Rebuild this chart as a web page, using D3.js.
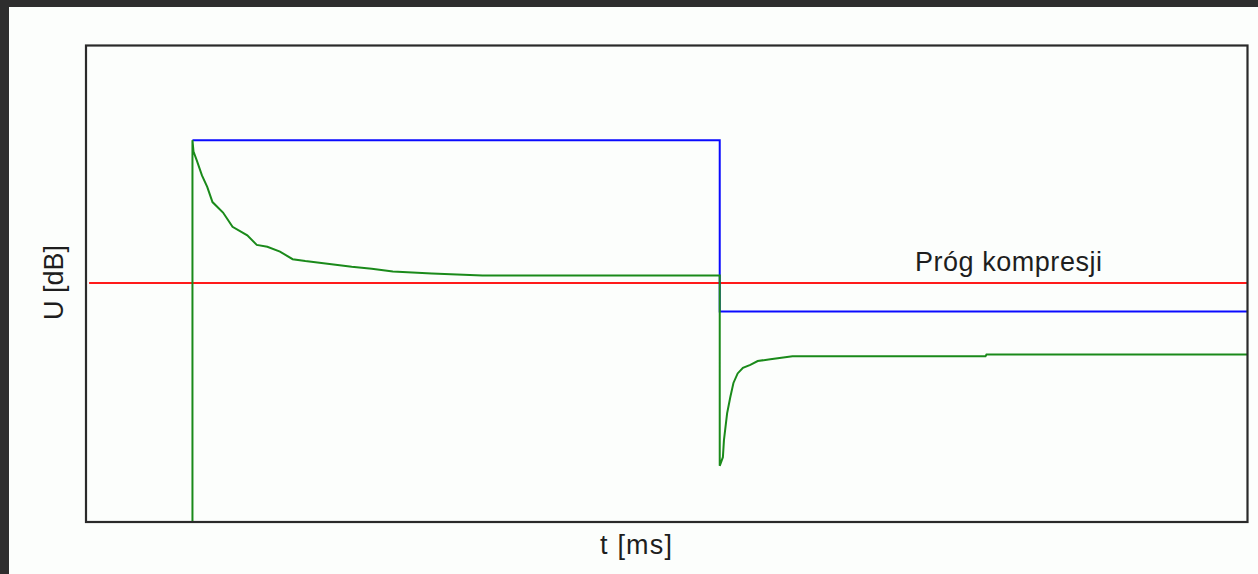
<!DOCTYPE html>
<html>
<head>
<meta charset="utf-8">
<script src="https://cdn.jsdelivr.net/npm/d3@7"></script>
<style>
  html, body { margin: 0; padding: 0; background: #2e2e2e; }
  svg { display: block; }
  text { font-family: "Liberation Sans", Arial, sans-serif; fill: #1e1e1e; }
</style>
</head>
<body>
<svg id="chart" width="1258" height="574"></svg>
<script>
// Time axis (ms) and level axis (dB)
const timeDomain = [0, 110];
const levelDomain = [0, 50];

// Compression threshold
const thresholdLevel = 25;
const thresholdLabel = "Próg kompresji";

// Input signal: a burst, then a quieter steady level
const inputTime  = [10, 60, 60, 110];
const inputLevel = [40, 40, 22, 22];

// Compressor output: attack overshoot decaying, then release undershoot recovering
const outputTime = [10, 10, 10.1, 10.4, 10.9, 11.4, 11.9, 12.9, 13.8, 15.2, 16.1, 17.1, 18.3, 19.5, 20.7, 23.0, 25.1, 27.0, 29.0, 32.7, 37.5, 60,
                    60, 60.3, 60.4, 60.7, 61.0, 61.3, 61.7, 62.2, 62.9, 63.6, 64.8, 66.9, 85.2, 85.3, 110];
const outputLevel = [0, 40, 38.8, 37.9, 36.3, 35.1, 33.5, 32.4, 30.9, 30.0, 29.0, 28.8, 28.3, 27.5, 27.3, 27.0, 26.7, 26.5, 26.2, 26.0, 25.8, 25.8,
                     5.8, 6.7, 8.5, 11.3, 13.0, 14.5, 15.5, 16.1, 16.4, 16.8, 17.0, 17.3, 17.3, 17.5, 17.5];

const xLabel = "t [ms]";
const yLabel = "U [dB]";

const svg = d3.select("#chart");
const W = 1258, H = 574;

// page background
svg.append("rect").attr("x", 9).attr("y", 7).attr("width", W - 9).attr("height", H - 7).attr("fill", "#fcfefc");

const plot = { left: 86, top: 45.5, right: 1247.5, bottom: 522 };

const x = d3.scaleLinear().domain(timeDomain).range([87, 1247]);
const y = d3.scaleLinear().domain(levelDomain).range([521, 45]);

const line = d3.line().x(d => x(d[0])).y(d => y(d[1]));

// threshold line
svg.append("path")
  .datum([[timeDomain[0] + 0.2, thresholdLevel], [timeDomain[1], thresholdLevel]])
  .attr("d", line)
  .attr("fill", "none").attr("stroke", "#ff1a1a").attr("stroke-width", 2);

// input
svg.append("path")
  .datum(inputTime.map((t, i) => [t, inputLevel[i]]))
  .attr("d", line)
  .attr("fill", "none").attr("stroke", "#0a0aff").attr("stroke-width", 2);

// output
svg.append("path")
  .datum(outputTime.map((t, i) => [t, outputLevel[i]]))
  .attr("d", line)
  .attr("fill", "none").attr("stroke", "#1a8a1a").attr("stroke-width", 2)
  .attr("stroke-linejoin", "miter");

// frame
svg.append("rect")
  .attr("x", plot.left).attr("y", plot.top)
  .attr("width", plot.right - plot.left).attr("height", plot.bottom - plot.top)
  .attr("fill", "none").attr("stroke", "#2a2a2a").attr("stroke-width", 2.2);

// threshold label
svg.append("text")
  .attr("x", 915).attr("y", y(thresholdLevel) - 12.5)
  .attr("font-size", 27)
  .attr("textLength", 187).attr("lengthAdjust", "spacing")
  .text(thresholdLabel);

// axis titles
svg.append("text")
  .attr("x", 600).attr("y", 554)
  .attr("font-size", 27)
  .attr("textLength", 72).attr("lengthAdjust", "spacing")
  .text(xLabel);

svg.append("text")
  .attr("transform", "translate(63, 320) rotate(-90)")
  .attr("font-size", 27)
  .attr("textLength", 75).attr("lengthAdjust", "spacing")
  .text(yLabel);
</script>
</body>
</html>
